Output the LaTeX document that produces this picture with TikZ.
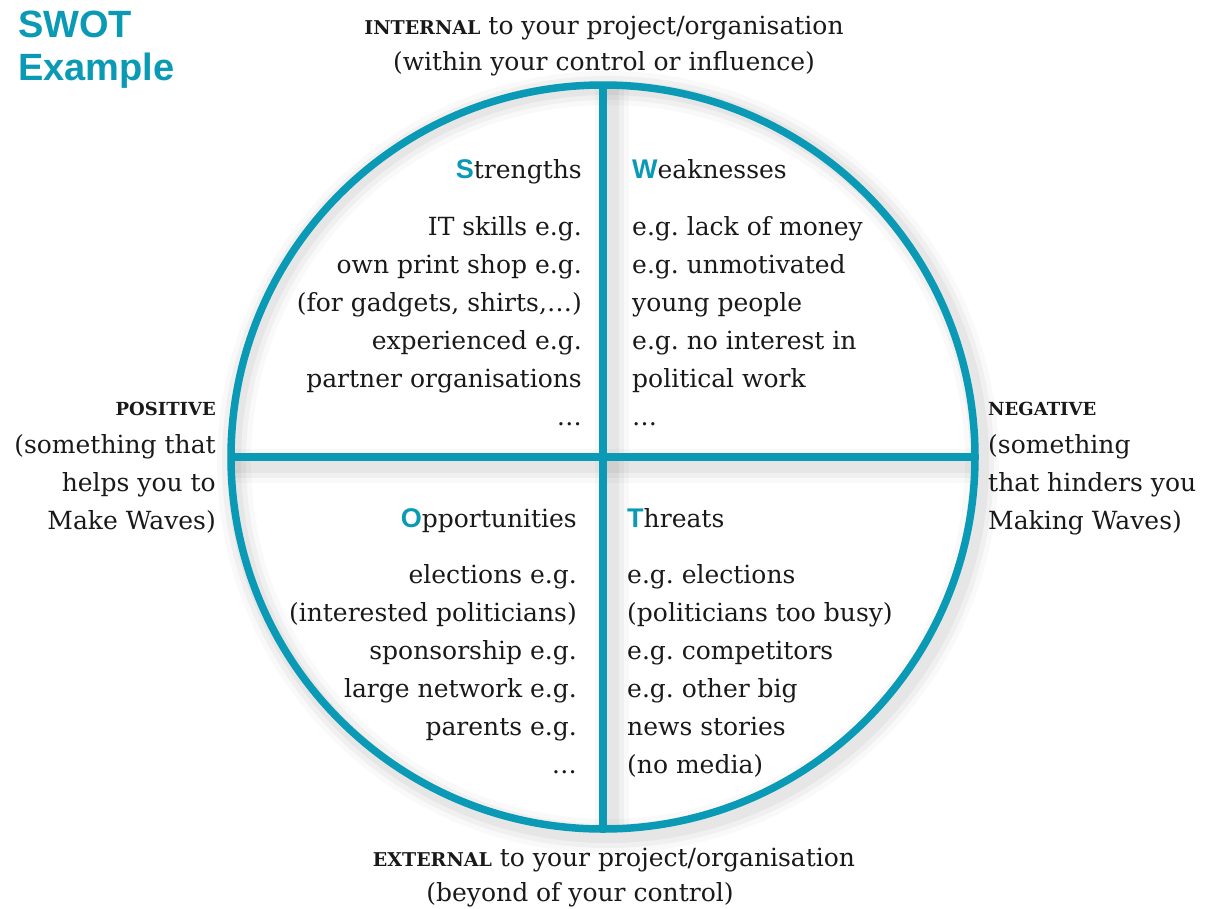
\documentclass[tikz,border=0pt]{standalone}
\usepackage{fontspec}
\setmainfont{DejaVu Serif}
\newfontfamily\swotfont{Liberation Sans}
\definecolor{swteal}{HTML}{0A9AB5}
\newcommand{\hl}[1]{{\swotfont\bfseries\fontsize{27}{30}\selectfont\textcolor{swteal}{#1}}}
\frenchspacing
\begin{document}
\begin{tikzpicture}[x=1pt,y=-1pt,
  body/.style={font=\fontsize{25}{38}\selectfont, inner sep=0pt, text=black!90},
  rbody/.style={body, align=right, anchor=base east},
  lbody/.style={body, align=left, anchor=base west},
  cbody/.style={body, anchor=base},
  tealline/.style={line width=7.5pt, draw=swteal},
  shade/.style={draw=black, line cap=butt}]
\useasboundingbox (0,0) rectangle (1214,908);
\coordinate (c) at (603,457);
\coordinate (top) at (603,85);
\coordinate (bot) at (603,829);
\coordinate (lft) at (231,457);
\coordinate (rgt) at (975,457);
% soft shadows
\foreach \w/\o in {34/0.025, 24/0.035, 14/0.045}{
  \draw[shade, opacity=\o, line width=\w pt] ([shift={(9,0)}]top) -- ([shift={(9,0)}]bot);
  \draw[shade, opacity=\o, line width=\w pt] ([shift={(0,9)}]lft) -- ([shift={(0,9)}]rgt);
  \draw[shade, opacity=\o, line width=\w pt] ([shift={(5,5)}]c) circle[radius=374pt];
}
% cross and circle
\draw[tealline] (c) circle[radius=372pt];
\draw[tealline] (top) -- (bot);
\draw[tealline] (lft) -- (rgt);
% title
\node[anchor=base west, inner sep=0pt, font=\swotfont\bfseries\fontsize{38}{43}\selectfont, text=swteal, align=left] (title) at (18,80) {SWOT\\Example};
% internal / external
\node[cbody] (int1) at (604,34) {{\fontsize{19}{20}\selectfont\bfseries INTERNAL} to your project/organisation};
\node[cbody] (int2) at (604,70) {(within your control or influence)};
\node[cbody] (ext1) at (614,866) {{\fontsize{19}{20}\selectfont\bfseries EXTERNAL} to your project/organisation};
\node[cbody] (ext2) at (580,901) {(beyond of your control)};
% positive / negative
\node[rbody] (pos) at (216,529) {{\fontsize{18}{38}\selectfont\bfseries POSITIVE}\\(something that\\helps you to\\Make Waves)};
\node[lbody] (neg) at (988,529) {{\fontsize{18}{38}\selectfont\bfseries NEGATIVE}\\(something\\that hinders you\\Making Waves)};
% strengths
\node[rbody] (sh) at (582,178) {\hl{S}trengths};
\node[rbody] (sb) at (582,425) {IT skills e.g.\\own print shop e.g.\\(for gadgets, shirts,…)\\experienced e.g.\\partner organisations\\…};
% weaknesses
\node[lbody] (wh) at (632,178) {\hl{W}eaknesses};
\node[lbody] (wb) at (632,425) {e.g. lack of money\\e.g. unmotivated\\young people\\e.g. no interest in\\political work\\…};
% opportunities
\node[rbody] (oh) at (577,527) {\hl{O}pportunities};
\node[rbody] (ob) at (577,773) {elections e.g.\\(interested politicians)\\sponsorship e.g.\\large network e.g.\\parents e.g.\\…};
% threats
\node[lbody] (th) at (627,527) {\hl{T}hreats};
\node[lbody] (tb) at (627,773) {e.g. elections\\(politicians too busy)\\e.g. competitors\\e.g. other big\\news stories\\(no media)};
\end{tikzpicture}
\end{document}
